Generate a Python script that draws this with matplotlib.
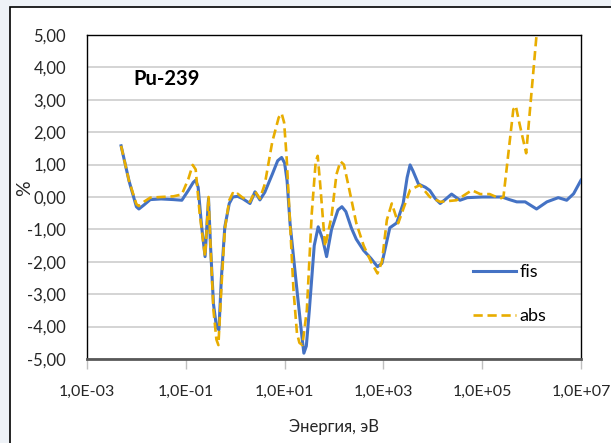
import numpy as np
import matplotlib.pyplot as plt
from matplotlib.patches import Rectangle
from matplotlib.ticker import FixedLocator, FuncFormatter, NullLocator

# log10(E, eV) and deviation in %
fis_lg = [-2.31, -2.15, -2.0, -1.95, -1.85, -1.72, -1.5, -1.25, -1.08, -0.95,
          -0.85, -0.8, -0.75, -0.68, -0.61, -0.57, -0.54, -0.5, -0.44, -0.38,
          -0.33, -0.28, -0.21, -0.12, -0.05, 0.05, 0.15, 0.3, 0.4, 0.5,
          0.6, 0.75, 0.86, 0.94, 1.0, 1.05, 1.11, 1.25, 1.35, 1.39,
          1.44, 1.5, 1.6, 1.68, 1.77, 1.85, 1.95, 2.08, 2.16, 2.24,
          2.35, 2.45, 2.6, 2.75, 2.88, 2.97, 3.05, 3.13, 3.27, 3.4,
          3.48, 3.54, 3.6, 3.71, 3.85, 3.94, 4.05, 4.15, 4.25, 4.38,
          4.55, 4.7, 5.0, 5.4, 5.55, 5.7, 5.87, 6.1, 6.31, 6.54,
          6.71, 6.85, 7.0]
fis_val = [1.58, 0.5, -0.3, -0.37, -0.25, -0.08, -0.06, -0.08, -0.1, 0.2,
           0.45, 0.52, 0.3, -0.9, -1.84, -0.8, -0.05, -1.5, -3.3, -4.0,
           -4.1, -2.5, -0.92, -0.2, 0.0, 0.02, -0.05, -0.2, 0.16, -0.09,
           0.15, 0.7, 1.12, 1.22, 1.05, 0.5, -0.81, -2.87, -4.3, -4.82,
           -4.6, -3.5, -1.5, -0.92, -1.3, -1.84, -1.0, -0.4, -0.3, -0.45,
           -0.95, -1.3, -1.65, -1.9, -2.15, -2.05, -1.5, -0.95, -0.8, -0.2,
           0.6, 0.99, 0.8, 0.4, 0.3, 0.2, -0.05, -0.2, -0.08, 0.09,
           -0.1, -0.02, 0.0, 0.0, -0.08, -0.15, -0.15, -0.37, -0.15, -0.02,
           -0.1, 0.1, 0.52]

abs_lg = [-2.31, -2.15, -2.0, -1.95, -1.85, -1.72, -1.5, -1.25, -1.08, -0.95,
          -0.86, -0.8, -0.72, -0.61, -0.57, -0.54, -0.5, -0.44, -0.38, -0.34,
          -0.28, -0.21, -0.12, -0.05, 0.0, 0.05, 0.15, 0.3, 0.4, 0.5,
          0.6, 0.75, 0.88, 0.94, 0.99, 1.04, 1.11, 1.18, 1.25, 1.3,
          1.36, 1.45, 1.55, 1.63, 1.67, 1.72, 1.82, 1.95, 2.05, 2.13,
          2.2, 2.3, 2.45, 2.6, 2.75, 2.88, 2.97, 3.07, 3.17, 3.3,
          3.54, 3.74, 3.94, 4.15, 4.48, 4.79, 4.96, 5.15, 5.36, 5.43,
          5.53, 5.63, 5.68, 5.75, 5.89, 6.1, 6.2]
abs_val = [1.58, 0.5, -0.22, -0.28, -0.15, -0.02, 0.0, 0.02, 0.08, 0.55,
           0.99, 0.85, -0.5, -1.84, -0.8, 0.0, -1.5, -3.5, -4.4, -4.57,
           -2.8, -1.0, -0.1, 0.12, 0.05, 0.1, -0.02, -0.15, 0.18, -0.05,
           0.4, 1.7, 2.45, 2.58, 2.3, 1.25, -0.8, -2.87, -4.2, -4.5,
           -4.57, -3.5, -0.5, 1.1, 1.27, 0.4, -1.53, -0.6, 0.7, 1.1,
           1.0, 0.3, -0.8, -1.5, -2.0, -2.36, -2.0, -0.71, -0.2, -0.81,
           0.22, 0.37, 0.0, -0.15, -0.1, 0.21, 0.09, 0.09, -0.05, 0.0,
           1.35, 2.7, 2.81, 2.3, 1.35, 5.0, 6.5]

x_ticks = [1e-3, 1e-1, 1e1, 1e3, 1e5, 1e7]
y_ticks = np.arange(-5, 6, 1)

plt.rcParams['font.family'] = ['Lato', 'DejaVu Sans']

fig = plt.figure(figsize=(6.11, 4.43), dpi=100)
fig.patch.set_facecolor('#eef2f7')
fig.patches.append(Rectangle((10 / 611, -0.05), 1.1, 1 - 7 / 443 + 0.05,
                             transform=fig.transFigure, facecolor='white',
                             edgecolor='black', linewidth=1.2, zorder=-10))

ax = fig.add_axes([87 / 611, 1 - 359 / 443, 494 / 611, 324 / 443])
ax.set_facecolor('white')

ax.plot(10 ** np.array(fis_lg), fis_val, color='#4472c4', lw=2.2,
        label='fis', zorder=3, solid_joinstyle='round')
ax.plot(10 ** np.array(abs_lg), abs_val, color='#e8ad00', lw=1.9,
        dashes=(3.5, 1.8), label='abs', zorder=4)

ax.set_xscale('log')
ax.set_xlim(1e-3, 1e7)
ax.set_ylim(-5, 5)
ax.xaxis.set_major_locator(FixedLocator(x_ticks))
ax.xaxis.set_minor_locator(NullLocator())
ax.xaxis.set_major_formatter(FuncFormatter(
    lambda v, p: ('%.1E' % v).replace('.', ',')))
ax.yaxis.set_major_locator(FixedLocator(y_ticks))
ax.yaxis.set_major_formatter(FuncFormatter(
    lambda v, p: ('%.2f' % v).replace('.', ',')))

ax.grid(axis='y', color='#d4d4d4', lw=1.4)
ax.set_axisbelow(True)
for s in ['top', 'right', 'left']:
    ax.spines[s].set_color('black')
    ax.spines[s].set_linewidth(1.0)
ax.spines['bottom'].set_color('#595959')
ax.spines['bottom'].set_linewidth(2.0)

ax.tick_params(axis='x', length=7, width=1, color='#bfbfbf',
               labelsize=11.5, pad=12, labelcolor='#262626')
ax.tick_params(axis='y', length=0, labelsize=12, pad=15,
               labelcolor='#262626')

ax.set_xlabel('Энергия, эВ', fontsize=12, color='#262626', labelpad=14)
ax.set_ylabel('%', fontsize=14, color='#262626')
ax.yaxis.set_label_coords(-0.11, 0.528)

ax.text(0.093, 0.865, 'Pu-239', transform=ax.transAxes, fontsize=14.5,
        fontweight='bold', color='black', va='center')

ax.legend(loc='upper left', bbox_to_anchor=(0.781, 0.292), frameon=False,
          fontsize=13, handlelength=2.4, handletextpad=0.2,
          labelspacing=1.55, borderaxespad=0, borderpad=0)

fig.savefig('out.png', dpi=100, facecolor=fig.get_facecolor())
